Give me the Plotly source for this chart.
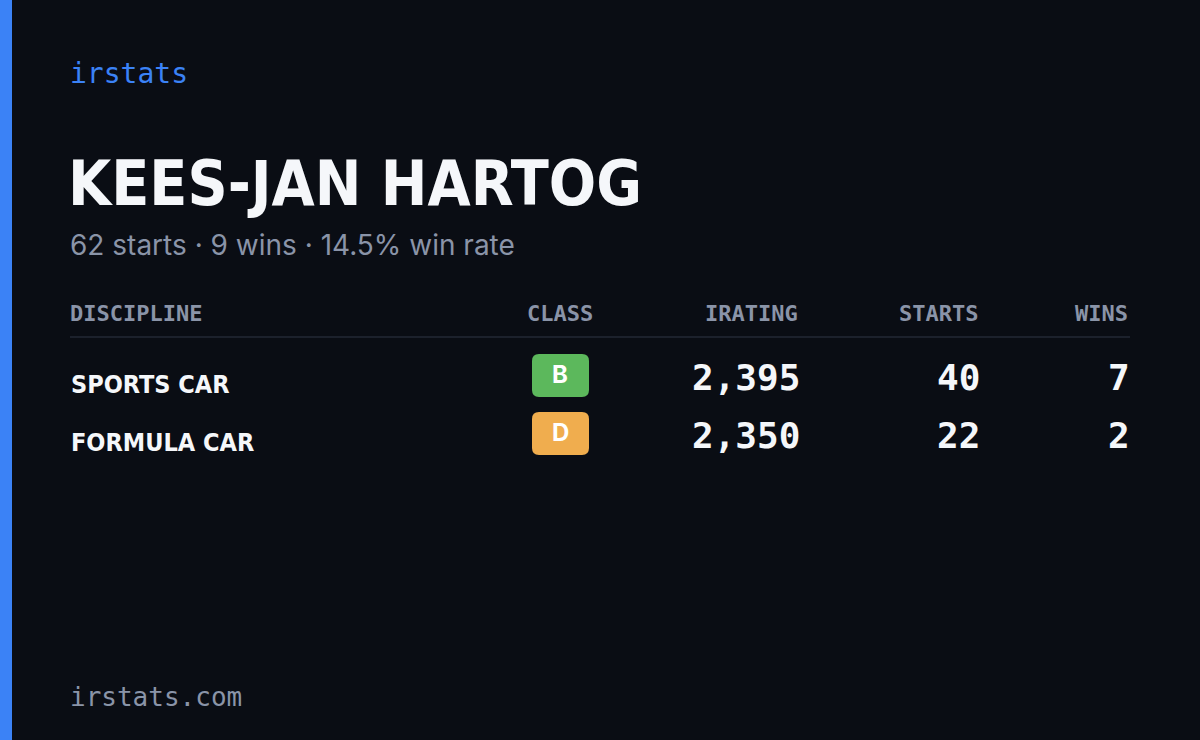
import plotly.graph_objects as go

driver = "KEES-JAN HARTOG"
summary = "62 starts · 9 wins · 14.5% win rate"
columns = ["DISCIPLINE", "CLASS", "IRATING", "STARTS", "WINS"]
disciplines = ["SPORTS CAR", "FORMULA CAR"]
classes = ["B", "D"]
class_colors = {"B": "#5cb85c", "D": "#f0ad4e"}
iratings = [2395, 2350]
starts = [40, 22]
wins = [7, 2]

BG = "#0a0d14"
MONO = "DejaVu Sans Mono"
COND = "DejaVu Sans Condensed, sans-serif"

fig = go.Figure()
ann = []
shapes = []

def txt(x, y, s, size, color, font, anchor="left", bold=False):
    ann.append(dict(x=x, y=y, text=f"<b>{s}</b>" if bold else s, showarrow=False,
                    xanchor=anchor, yanchor="middle",
                    font=dict(size=size, color=color, family=font)))

def rounded(x0, y0, x1, y1, r):
    return (f"M{x0+r},{y0} L{x1-r},{y0} Q{x1},{y0} {x1},{y0+r} L{x1},{y1-r} "
            f"Q{x1},{y1} {x1-r},{y1} L{x0+r},{y1} Q{x0},{y1} {x0},{y1-r} "
            f"L{x0},{y0+r} Q{x0},{y0} {x0+r},{y0} Z")

# accent bar on the left
shapes.append(dict(type="rect", x0=0, x1=12, y0=0, y1=740, fillcolor="#3b82f6", line_width=0))

txt(68, 73, "irstats", 28, "#3b82f6", MONO)
txt(66, 183, driver, 62, "#f5f7fa", COND, bold=True)
txt(68, 245, summary, 28, "#8a94a8", "Inter")

col_x = [68, 560, 800, 980, 1130]
col_anchor = ["left", "center", "right", "right", "right"]
for x, a, c in zip(col_x, col_anchor, columns):
    txt(x, 313, c, 22, "#8a94a8", MONO, anchor=a, bold=True)
shapes.append(dict(type="line", x0=70, x1=1130, y0=337, y1=337, line=dict(color="#1c212c", width=2)))

row_y = [377, 435]
for y, d, c, ir, st, w in zip(row_y, disciplines, classes, iratings, starts, wins):
    txt(69, y + 7, d, 25, "#f5f7fa", COND, bold=True)
    shapes.append(dict(type="path", path=rounded(532, y - 23, 589, y + 20, 7),
                       fillcolor=class_colors[c], line_width=0, layer="below"))
    txt(560, y - 3, c, 24, "#ffffff", "Inter", anchor="center", bold=True)
    txt(802, y, f"<b>{ir:,}</b>", 36, "#f5f7fa", MONO, anchor="right")
    txt(982, y, f"<b>{st}</b>", 36, "#f5f7fa", MONO, anchor="right")
    txt(1132, y, f"<b>{w}</b>", 36, "#f5f7fa", MONO, anchor="right")

txt(68, 697, "irstats.com", 26, "#8a94a8", MONO)

fig.update_layout(
    width=1200, height=740, margin=dict(l=0, r=0, t=0, b=0),
    paper_bgcolor=BG, plot_bgcolor=BG,
    xaxis=dict(range=[0, 1200], visible=False, fixedrange=True),
    yaxis=dict(range=[740, 0], visible=False, fixedrange=True),
    annotations=ann, shapes=shapes, showlegend=False,
)
fig.write_html("out.html", config={"displayModeBar": False},
               post_script="document.body.style.margin='0';document.body.style.background='#0a0d14';")
